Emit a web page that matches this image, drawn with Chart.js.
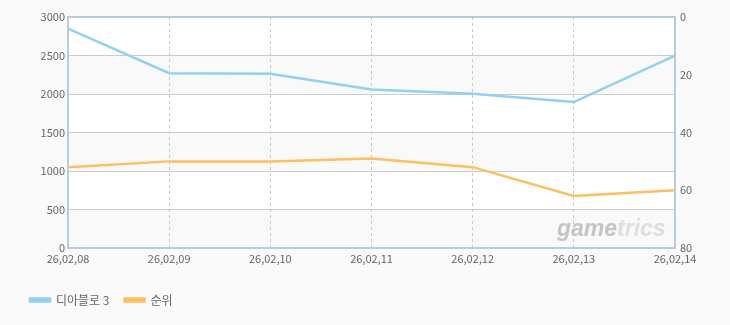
<!DOCTYPE html>
<html>
<head>
<meta charset="utf-8">
<script src="https://cdn.jsdelivr.net/npm/chart.js@4/dist/chart.umd.min.js"></script>
<style>
  html, body { margin: 0; padding: 0; background: #fafafa; }
  #wrap { width: 730px; height: 325px; }
</style>
</head>
<body>
<div id="wrap"><canvas id="c" width="730" height="325"></canvas></div>
<script>
const categories = ['26,02,08', '26,02,09', '26,02,10', '26,02,11', '26,02,12', '26,02,13', '26,02,14'];
const usageValues = [2850, 2270, 2262, 2060, 2002, 1895, 2498];
const rankValues = [52, 50, 50, 49, 52, 62, 60];
const seriesNames = ['디아블로 3', '순위'];
const leftTicks = [0, 500, 1000, 1500, 2000, 2500, 3000];
const rightTicks = [0, 20, 40, 60, 80];
const watermark = ['game', 'trics'];

const FONT = "'Noto Sans CJK KR', 'DejaVu Sans', sans-serif";

const areaPlugin = {
  id: 'area',
  beforeDraw(chart) {
    const { ctx, chartArea: a, scales } = chart;
    ctx.save();
    ctx.fillStyle = '#ffffff';
    ctx.fillRect(a.left, a.top, a.right - a.left, a.bottom - a.top);
    ctx.fillStyle = '#f9f9f9';
    const y = scales.y;
    for (let i = 0; i < leftTicks.length - 1; i += 2) {
      const t = y.getPixelForValue(leftTicks[i + 1]);
      const b = y.getPixelForValue(leftTicks[i]);
      ctx.fillRect(a.left, t, a.right - a.left, b - t);
    }
    ctx.restore();
  },
  afterDatasetsDraw(chart) {
    const { ctx, chartArea: a } = chart;
    ctx.save();
    ctx.font = "italic bold 23px 'Liberation Sans', sans-serif";
    ctx.textBaseline = 'alphabetic';
    const x0 = 557, yb = 236;
    ctx.fillStyle = '#c4c4c4';
    ctx.fillText(watermark[0], x0, yb);
    const w0 = ctx.measureText(watermark[0]).width;
    ctx.fillStyle = '#dedede';
    ctx.fillText(watermark[1], x0 + w0, yb);
    ctx.strokeStyle = '#b9cbdd';
    ctx.lineWidth = 2;
    ctx.strokeRect(a.left, a.top, a.right - a.left, a.bottom - a.top);
    ctx.restore();
  }
};

new Chart(document.getElementById('c'), {
  type: 'line',
  data: {
    labels: categories,
    datasets: [
      {
        label: seriesNames[0],
        data: usageValues,
        yAxisID: 'y',
        borderColor: '#92d0f2',
        backgroundColor: '#92d0f2',
        borderWidth: 2.5,
        pointRadius: 0,
        tension: 0,
        fill: false
      },
      {
        label: seriesNames[1],
        data: rankValues,
        yAxisID: 'y1',
        borderColor: '#fdbf60',
        backgroundColor: '#fdbf60',
        borderWidth: 2.5,
        pointRadius: 0,
        tension: 0,
        fill: false
      }
    ]
  },
  options: {
    responsive: false,
    animation: false,
    devicePixelRatio: 1,
    layout: { padding: { top: 17, left: 15, right: 0, bottom: 9 } },
    plugins: {
      tooltip: { enabled: false },
      legend: {
        position: 'bottom',
        align: 'start',
        labels: {
          boxWidth: 20,
          boxHeight: 3,
          padding: 15,
          color: '#666666',
          font: { family: FONT, size: 12 }
        }
      }
    },
    scales: {
      x: {
        type: 'category',
        offset: false,
        grid: { color: '#c8c8c8', drawTicks: false, lineWidth: 1 },
        border: { display: false, dash: [3, 3] },
        ticks: { color: '#666666', font: { family: FONT, size: 11 }, padding: 4, maxRotation: 0, autoSkip: false },
        afterFit(s) { s.height = 31; }
      },
      y: {
        position: 'left',
        min: 0,
        max: 3000,
        afterBuildTicks(s) { s.ticks = leftTicks.map(v => ({ value: v })); },
        grid: { color: '#cccccc', drawTicks: false },
        border: { display: false },
        ticks: { color: '#666666', font: { family: FONT, size: 11 }, padding: 3, callback: v => String(v) },
        afterFit(s) { s.width = 53; }
      },
      y1: {
        position: 'right',
        reverse: true,
        min: 0,
        max: 80,
        afterBuildTicks(s) { s.ticks = rightTicks.map(v => ({ value: v })); },
        grid: { drawOnChartArea: false, drawTicks: false },
        border: { display: false },
        ticks: { color: '#666666', font: { family: FONT, size: 11 }, padding: 5, callback: v => String(v) },
        afterFit(s) { s.width = 55; }
      }
    }
  },
  plugins: [areaPlugin]
});
</script>
</body>
</html>
